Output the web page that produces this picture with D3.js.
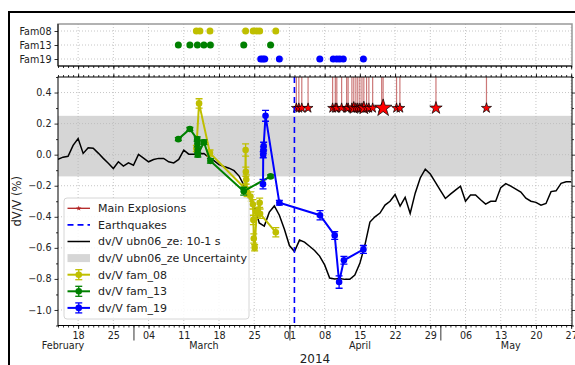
<!DOCTYPE html>
<html>
<head>
<meta charset="utf-8">
<script src="https://cdn.jsdelivr.net/npm/d3@7"></script>
<style>
    body { margin: 0; background: #fff; }
    svg { display: block; font-family: "DejaVu Sans", sans-serif; }
</style>
</head>
<body>
<div id="chart"></div>
<script>
/* ----------------------------------------------------- Data ------------------------------------------------------------------------- */

const families = ["Fam08", "Fam13", "Fam19"];

const fam08Events = ["2014-03-13 12", "2014-03-14 05", "2014-03-16 05", "2014-03-23 07", "2014-03-24 19", "2014-03-25 12", "2014-03-26 02", "2014-03-29 07"];
const fam13Events = ["2014-03-09 22", "2014-03-12 05", "2014-03-13 17", "2014-03-15 00", "2014-03-16 07", "2014-03-22 22", "2014-03-28 06"];
const fam19Events = ["2014-03-26 07", "2014-03-26 17", "2014-03-27 02", "2014-03-30 00", "2014-04-07 01", "2014-04-09 17", "2014-04-10 10", "2014-04-11 00", "2014-04-11 17", "2014-04-15 17"];

// [date, dv/V %, error]
const fam08 = [
    ["2014-03-13 12", 0.04, 0.02], ["2014-03-14 01", 0.33, 0.03], ["2014-03-16 05", 0.01, 0.02],
    ["2014-03-23 05", -0.22, 0.03], ["2014-03-23 07", 0.03, 0.04], ["2014-03-23 08", -0.11, 0.03],
    ["2014-03-23 10", -0.16, 0.03], ["2014-03-23 14", -0.24, 0.03], ["2014-03-24 06", -0.27, 0.03],
    ["2014-03-24 18", -0.32, 0.03], ["2014-03-24 20", -0.42, 0.03], ["2014-03-24 22", -0.54, 0.03],
    ["2014-03-25 02", -0.60, 0.02], ["2014-03-25 12", -0.37, 0.03], ["2014-03-26 02", -0.31, 0.03],
    ["2014-03-26 04", -0.38, 0.03], ["2014-03-29 07", -0.50, 0.03]
];
const fam13 = [
    ["2014-03-09 22", 0.10, 0.01], ["2014-03-12 05", 0.165, 0.01], ["2014-03-13 16", 0.10, 0.015],
    ["2014-03-13 17", 0.07, 0.02], ["2014-03-13 18", 0.03, 0.02], ["2014-03-13 19", 0.00, 0.015],
    ["2014-03-15 00", 0.08, 0.015], ["2014-03-16 07", -0.04, 0.015], ["2014-03-22 22", -0.235, 0.025],
    ["2014-03-28 06", -0.14, 0.01]
];
const fam19 = [
    ["2014-03-26 18", -0.19, 0.03], ["2014-03-26 19", 0.00, 0.02], ["2014-03-26 20", 0.03, 0.02],
    ["2014-03-26 21", 0.055, 0.025], ["2014-03-27 06", 0.25, 0.035], ["2014-03-30 00", -0.31, 0.015],
    ["2014-04-07 02", -0.39, 0.03], ["2014-04-10 00", -0.52, 0.025], ["2014-04-10 21", -0.82, 0.04],
    ["2014-04-11 20", -0.68, 0.025], ["2014-04-15 17", -0.61, 0.025]
];

// ubn06_ze 10-1 s daily dv/V
const ubn06 = [
    ["2014-02-14", -0.03], ["2014-02-15", -0.016], ["2014-02-16", -0.01], ["2014-02-17", 0.06], ["2014-02-18", 0.104],
    ["2014-02-19", 0.008], ["2014-02-20", 0.044], ["2014-02-21", 0.042], ["2014-02-22", 0.01], ["2014-02-23", -0.024],
    ["2014-02-24", -0.055], ["2014-02-25", -0.089], ["2014-02-26", -0.046], ["2014-02-27", -0.074], ["2014-02-28", -0.053],
    ["2014-03-01", -0.068], ["2014-03-02", 0.001], ["2014-03-03", -0.022], ["2014-03-04", -0.046], ["2014-03-05", -0.031],
    ["2014-03-06", -0.024], ["2014-03-07", -0.024], ["2014-03-08", -0.046], ["2014-03-09", -0.053], ["2014-03-10", -0.031],
    ["2014-03-11", 0.029], ["2014-03-12", 0.003], ["2014-03-13", 0.003], ["2014-03-14", 0.006], ["2014-03-15", 0.008],
    ["2014-03-16", -0.019], ["2014-03-17", -0.039], ["2014-03-18", -0.064], ["2014-03-19", -0.076], ["2014-03-20", -0.087],
    ["2014-03-21", -0.103], ["2014-03-22", -0.138], ["2014-03-23", -0.2], ["2014-03-24", -0.26], ["2014-03-25", -0.33],
    ["2014-03-26", -0.44], ["2014-03-27", -0.46], ["2014-03-28", -0.37], ["2014-03-29", -0.33], ["2014-03-30", -0.39],
    ["2014-03-31", -0.48], ["2014-04-01", -0.585], ["2014-04-02", -0.624], ["2014-04-03", -0.55], ["2014-04-04", -0.563],
    ["2014-04-05", -0.59], ["2014-04-06", -0.617], ["2014-04-07", -0.653], ["2014-04-08", -0.71], ["2014-04-09", -0.794],
    ["2014-04-10", -0.80], ["2014-04-11", -0.797], ["2014-04-12", -0.803], ["2014-04-13", -0.803], ["2014-04-14", -0.775],
    ["2014-04-15", -0.70], ["2014-04-16", -0.582], ["2014-04-17", -0.434], ["2014-04-18", -0.40], ["2014-04-19", -0.376],
    ["2014-04-20", -0.325], ["2014-04-21", -0.30], ["2014-04-22", -0.257], ["2014-04-23", -0.331], ["2014-04-24", -0.275],
    ["2014-04-25", -0.378], ["2014-04-26", -0.248], ["2014-04-27", -0.15], ["2014-04-28", -0.093], ["2014-04-29", -0.125],
    ["2014-04-30", -0.177], ["2014-05-01", -0.23], ["2014-05-02", -0.282], ["2014-05-03", -0.254], ["2014-05-04", -0.228],
    ["2014-05-05", -0.203], ["2014-05-06", -0.30], ["2014-05-07", -0.26], ["2014-05-08", -0.26], ["2014-05-09", -0.29],
    ["2014-05-10", -0.318], ["2014-05-11", -0.30], ["2014-05-12", -0.30], ["2014-05-13", -0.212], ["2014-05-14", -0.186],
    ["2014-05-15", -0.203], ["2014-05-16", -0.222], ["2014-05-17", -0.241], ["2014-05-18", -0.28], ["2014-05-19", -0.30],
    ["2014-05-20", -0.307], ["2014-05-21", -0.325], ["2014-05-22", -0.314], ["2014-05-23", -0.238], ["2014-05-24", -0.233],
    ["2014-05-25", -0.185], ["2014-05-26", -0.175], ["2014-05-27", -0.175]
];
const ubnUncertainty = [-0.14, 0.25];

// [date, relative size]
const explosions = [
    ["2014-04-02 09", 1], ["2014-04-02 21", 1], ["2014-04-03 11", 1], ["2014-04-04 17", 1],
    ["2014-04-09 14", 1], ["2014-04-10 03", 1], ["2014-04-10 10", 1], ["2014-04-11 09", 1],
    ["2014-04-12 09", 1], ["2014-04-12 16", 1], ["2014-04-13 10", 1], ["2014-04-13 19", 2],
    ["2014-04-14 05", 1], ["2014-04-14 14", 1], ["2014-04-15 00", 1], ["2014-04-15 10", 1],
    ["2014-04-15 19", 2.3], ["2014-04-16 08", 1], ["2014-04-16 19", 1], ["2014-04-17 13", 1],
    ["2014-04-19 08", 1], ["2014-04-19 15", 4], ["2014-04-22 07", 1], ["2014-04-22 23", 1],
    ["2014-04-30 03", 2], ["2014-05-10 04", 1.1]
];
const explosionLevel = 0.3;
const earthquakes = ["2014-04-01 23:46"];

const weekTicks = ["2014-02-18", "2014-02-25", "2014-03-04", "2014-03-11", "2014-03-18", "2014-03-25", "2014-04-01",
                   "2014-04-08", "2014-04-15", "2014-04-22", "2014-04-29", "2014-05-06", "2014-05-13", "2014-05-20", "2014-05-27"];
const monthStarts = ["2014-03-01", "2014-04-01", "2014-05-01"];
const monthLabels = [["2014-02-15", "February"], ["2014-03-15", "March"], ["2014-04-15", "April"], ["2014-05-15", "May"]];
const yMajorTicks = [0.4, 0.2, 0.0, -0.2, -0.4, -0.6, -0.8, -1.0];
const yMinorTicks = [0.5, 0.3, 0.1, -0.1, -0.3, -0.5, -0.7, -0.9, -1.1];
const xDomain = ["2014-02-14", "2014-05-27 04"];
const yDomain = [-1.1, 0.5];

/* ----------------------------------------------------- Helpers ---------------------------------------------------------------------- */

const parsers = ["%Y-%m-%d %H:%M", "%Y-%m-%d %H", "%Y-%m-%d"].map(f => d3.timeParse(f));
function toDate(s) {
    for (const p of parsers) {
        const d = p(s);
        if (d) return d;
    }
    return null;
}

/* ----------------------------------------------------- Layout ----------------------------------------------------------------------- */

const W = 575, H = 365;
const main = { left: 58, right: 572, top: 77, bottom: 325.5 };
const strip = { top: 24, bottom: 66 };
const fontTick = 9.6;
const colors = { fam08: "#bfbf00", fam13: "#008000", fam19: "#0000ff" };

const svg = d3.select("#chart").append("svg")
    .attr("width", W)
    .attr("height", H);

svg.append("rect").attr("width", W).attr("height", H).attr("fill", "#fff");

// figure frame
svg.append("rect")
    .attr("x", 9).attr("y", 12)
    .attr("width", 620).attr("height", 420)
    .attr("fill", "none").attr("stroke", "#000").attr("stroke-width", 2);

const x = d3.scaleTime()
    .domain(xDomain.map(toDate))
    .range([main.left, main.right]);

const y = d3.scaleLinear()
    .domain(yDomain)
    .range([main.bottom, main.top]);

const yFam = d3.scalePoint()
    .domain(families)
    .range([31, 59]);

const allDays = d3.timeDay.range(x.domain()[0], d3.timeDay.offset(x.domain()[1], 1));

function styleAxis(g) {
    g.select(".domain").remove();
    g.selectAll("line").attr("stroke", "#000").attr("stroke-width", 0.8);
    g.selectAll("text").attr("fill", "#222").style("font-size", fontTick + "px").style("font-family", "DejaVu Sans");
}

/* ----------------------------------------------------- Top strip -------------------------------------------------------------------- */

const gridStyle = sel => sel.attr("stroke", "#b8b8b8").attr("stroke-width", 0.8).attr("stroke-dasharray", "1,2");

svg.append("g").selectAll("line")
    .data(weekTicks.map(toDate))
    .enter().append("line")
    .attr("x1", d => x(d)).attr("x2", d => x(d))
    .attr("y1", strip.top).attr("y2", strip.bottom)
    .call(gridStyle);

svg.append("g").selectAll("line")
    .data(families)
    .enter().append("line")
    .attr("x1", main.left).attr("x2", main.right)
    .attr("y1", d => yFam(d)).attr("y2", d => yFam(d))
    .call(gridStyle);

const stripSeries = [["Fam08", fam08Events, colors.fam08], ["Fam13", fam13Events, colors.fam13], ["Fam19", fam19Events, colors.fam19]];
stripSeries.forEach(function ([fam, events, color]) {
    svg.append("g").selectAll("circle")
        .data(events)
        .enter().append("circle")
        .attr("cx", d => x(toDate(d)))
        .attr("cy", yFam(fam))
        .attr("r", 3.5)
        .attr("fill", color);
});

svg.append("rect")
    .attr("x", main.left).attr("y", strip.top)
    .attr("width", main.right - main.left).attr("height", strip.bottom - strip.top)
    .attr("fill", "none").attr("stroke", "#999").attr("stroke-width", 1.5);
svg.append("line")
    .attr("x1", main.left).attr("x2", main.left).attr("y1", strip.top).attr("y2", strip.bottom)
    .attr("stroke", "#000").attr("stroke-width", 1);
svg.append("line")
    .attr("x1", main.left).attr("x2", main.right).attr("y1", strip.bottom).attr("y2", strip.bottom)
    .attr("stroke", "#000").attr("stroke-width", 1);

svg.append("g")
    .attr("transform", `translate(${main.left},0)`)
    .call(d3.axisLeft(yFam).tickSize(3.5).tickPadding(3))
    .call(styleAxis);

svg.append("g")
    .attr("transform", `translate(0,${strip.bottom})`)
    .call(d3.axisBottom(x).tickValues(allDays).tickSize(2).tickFormat(""))
    .call(styleAxis);
svg.append("g")
    .attr("transform", `translate(0,${strip.bottom})`)
    .call(d3.axisBottom(x).tickValues(weekTicks.map(toDate)).tickSize(3.5).tickFormat(""))
    .call(styleAxis);

/* ----------------------------------------------------- Main panel ------------------------------------------------------------------- */

svg.append("defs").append("clipPath").attr("id", "clip")
    .append("rect")
    .attr("x", main.left).attr("y", main.top)
    .attr("width", main.right - main.left).attr("height", main.bottom - main.top);

const plot = svg.append("g").attr("clip-path", "url(#clip)");

// uncertainty band
plot.append("rect")
    .attr("x", main.left)
    .attr("width", main.right - main.left)
    .attr("y", y(ubnUncertainty[1]))
    .attr("height", y(ubnUncertainty[0]) - y(ubnUncertainty[1]))
    .attr("fill", "#d6d6d6");

// grid
plot.append("g").selectAll("line")
    .data(weekTicks.map(toDate))
    .enter().append("line")
    .attr("x1", d => x(d)).attr("x2", d => x(d))
    .attr("y1", main.top).attr("y2", main.bottom)
    .call(gridStyle);
plot.append("g").selectAll("line")
    .data(yMajorTicks)
    .enter().append("line")
    .attr("x1", main.left).attr("x2", main.right)
    .attr("y1", d => y(d)).attr("y2", d => y(d))
    .call(gridStyle);

// ubn06 curve
const line = d3.line()
    .x(d => x(toDate(d[0])))
    .y(d => y(d[1]));

plot.append("path")
    .datum(ubn06)
    .attr("d", line)
    .attr("fill", "none")
    .attr("stroke", "#000")
    .attr("stroke-width", 1.5);

// explosions
const starRadius = d3.scaleLinear().domain([1, 4]).range([5.2, 9.2]);
const starSize = m => Math.pow(starRadius(m), 2) / 0.8908130915292852;

plot.append("g").selectAll("line")
    .data(explosions)
    .enter().append("line")
    .attr("x1", d => x(toDate(d[0]))).attr("x2", d => x(toDate(d[0])))
    .attr("y1", y(explosionLevel)).attr("y2", main.top)
    .attr("stroke", "rgba(170,30,30,0.6)")
    .attr("stroke-width", 1.2);

plot.append("g").selectAll("path")
    .data(explosions)
    .enter().append("path")
    .attr("transform", d => `translate(${x(toDate(d[0]))},${y(explosionLevel)})`)
    .attr("d", d => d3.symbol(d3.symbolStar, starSize(d[1]))())
    .attr("fill", "#ff0000")
    .attr("stroke", "#000")
    .attr("stroke-width", 0.7);

// earthquakes
plot.append("g").selectAll("line")
    .data(earthquakes)
    .enter().append("line")
    .attr("x1", d => x(toDate(d))).attr("x2", d => x(toDate(d)))
    .attr("y1", main.top).attr("y2", main.bottom)
    .attr("stroke", "#0000ff")
    .attr("stroke-width", 1.6)
    .attr("stroke-dasharray", "6,4");

// family dv/V with error bars
function drawFamily(data, color) {
    const g = plot.append("g");
    g.append("path")
        .datum(data)
        .attr("d", line)
        .attr("fill", "none")
        .attr("stroke", color)
        .attr("stroke-width", 2);

    const bars = g.selectAll(".err")
        .data(data)
        .enter().append("g")
        .attr("stroke", color)
        .attr("stroke-width", 1.3);
    bars.append("line")
        .attr("x1", d => x(toDate(d[0]))).attr("x2", d => x(toDate(d[0])))
        .attr("y1", d => y(d[1] - d[2])).attr("y2", d => y(d[1] + d[2]));
    [-1, 1].forEach(function (s) {
        bars.append("line")
            .attr("x1", d => x(toDate(d[0])) - 3.5).attr("x2", d => x(toDate(d[0])) + 3.5)
            .attr("y1", d => y(d[1] + s * d[2])).attr("y2", d => y(d[1] + s * d[2]));
    });

    g.selectAll("circle")
        .data(data)
        .enter().append("circle")
        .attr("cx", d => x(toDate(d[0])))
        .attr("cy", d => y(d[1]))
        .attr("r", 3.3)
        .attr("fill", color);
}

drawFamily(fam08, colors.fam08);
drawFamily(fam13, colors.fam13);
drawFamily(fam19, colors.fam19);

// frame
svg.append("rect")
    .attr("x", main.left).attr("y", main.top)
    .attr("width", main.right - main.left).attr("height", main.bottom - main.top)
    .attr("fill", "none").attr("stroke", "#000").attr("stroke-width", 1);

/* ----------------------------------------------------- Axes ------------------------------------------------------------------------- */

// y left / right
svg.append("g")
    .attr("transform", `translate(${main.left},0)`)
    .call(d3.axisLeft(y).tickValues(yMajorTicks).tickSize(3.5).tickPadding(3).tickFormat(d3.format(".1f")))
    .call(styleAxis);
svg.append("g")
    .attr("transform", `translate(${main.left},0)`)
    .call(d3.axisLeft(y).tickValues(yMinorTicks).tickSize(2).tickFormat(""))
    .call(styleAxis);
svg.append("g")
    .attr("transform", `translate(${main.right},0)`)
    .call(d3.axisRight(y).tickValues(yMajorTicks).tickSize(3.5).tickFormat(""))
    .call(styleAxis);
svg.append("g")
    .attr("transform", `translate(${main.right},0)`)
    .call(d3.axisRight(y).tickValues(yMinorTicks).tickSize(2).tickFormat(""))
    .call(styleAxis);

// x top
svg.append("g")
    .attr("transform", `translate(0,${main.top})`)
    .call(d3.axisTop(x).tickValues(allDays).tickSize(2).tickFormat(""))
    .call(styleAxis);
svg.append("g")
    .attr("transform", `translate(0,${main.top})`)
    .call(d3.axisTop(x).tickValues(weekTicks.map(toDate)).tickSize(3.5).tickFormat(""))
    .call(styleAxis);

// x bottom
svg.append("g")
    .attr("transform", `translate(0,${main.bottom})`)
    .call(d3.axisBottom(x).tickValues(allDays).tickSize(2).tickFormat(""))
    .call(styleAxis);
svg.append("g")
    .attr("transform", `translate(0,${main.bottom})`)
    .call(d3.axisBottom(x).tickValues(weekTicks.map(toDate)).tickSize(3.5).tickPadding(3).tickFormat(d3.timeFormat("%d")))
    .call(styleAxis);
svg.append("g")
    .attr("transform", `translate(0,${main.bottom})`)
    .call(d3.axisBottom(x).tickValues(monthStarts.map(toDate)).tickSize(15).tickFormat(""))
    .call(styleAxis);

svg.append("g").selectAll("text")
    .data(monthLabels)
    .enter().append("text")
    .attr("x", d => x(toDate(d[0])))
    .attr("y", 349)
    .attr("text-anchor", "middle")
    .attr("fill", "#222")
    .style("font-size", fontTick + "px")
    .text(d => d[1]);

svg.append("text")
    .attr("x", (main.left + main.right) / 2)
    .attr("y", 363)
    .attr("text-anchor", "middle")
    .attr("fill", "#222")
    .style("font-size", "12px")
    .text("2014");

svg.append("text")
    .attr("transform", `translate(21, ${(main.top + main.bottom) / 2}) rotate(-90)`)
    .attr("text-anchor", "middle")
    .attr("fill", "#222")
    .style("font-size", "11.5px")
    .text("dV/V (%)");

/* ----------------------------------------------------- Legend ----------------------------------------------------------------------- */

const legendItems = [
    ["Main Explosions", "star"],
    ["Earthquakes", "dash"],
    ["dv/V ubn06_ze: 10-1 s", "line"],
    ["dv/V ubn06_ze Uncertainty", "patch"],
    ["dv/V fam_08", colors.fam08],
    ["dv/V fam_13", colors.fam13],
    ["dv/V fam_19", colors.fam19]
];

const legend = svg.append("g");
legend.append("rect")
    .attr("x", 64).attr("y", 198)
    .attr("width", 185).attr("height", 121)
    .attr("rx", 3)
    .attr("fill", "rgba(255,255,255,0.85)")
    .attr("stroke", "#ccc")
    .attr("stroke-width", 0.8);

legendItems.forEach(function ([label, kind], i) {
    const cy = 208.3 + i * 16.6;
    const g = legend.append("g");
    const x0 = 67.5, x1 = 90, xm = (x0 + x1) / 2;
    if (kind === "star") {
        g.append("line").attr("x1", x0).attr("x2", x1).attr("y1", cy).attr("y2", cy)
            .attr("stroke", "#b22222").attr("stroke-width", 1.3);
        g.append("path").attr("transform", `translate(${xm},${cy})`)
            .attr("d", d3.symbol(d3.symbolStar, 9)())
            .attr("fill", "#b22222");
    } else if (kind === "dash") {
        g.append("line").attr("x1", x0).attr("x2", x1).attr("y1", cy).attr("y2", cy)
            .attr("stroke", "#0000ff").attr("stroke-width", 1.6).attr("stroke-dasharray", "6,4");
    } else if (kind === "line") {
        g.append("line").attr("x1", x0).attr("x2", x1).attr("y1", cy).attr("y2", cy)
            .attr("stroke", "#000").attr("stroke-width", 1.5);
    } else if (kind === "patch") {
        g.append("rect").attr("x", x0).attr("y", cy - 4).attr("width", x1 - x0).attr("height", 8)
            .attr("fill", "#d6d6d6");
    } else {
        g.append("line").attr("x1", x0).attr("x2", x1).attr("y1", cy).attr("y2", cy)
            .attr("stroke", kind).attr("stroke-width", 2);
        g.append("line").attr("x1", xm).attr("x2", xm).attr("y1", cy - 5).attr("y2", cy + 5)
            .attr("stroke", kind).attr("stroke-width", 1.3);
        [-5, 5].forEach(function (o) {
            g.append("line").attr("x1", xm - 3.5).attr("x2", xm + 3.5).attr("y1", cy + o).attr("y2", cy + o)
                .attr("stroke", kind).attr("stroke-width", 1.3);
        });
        g.append("circle").attr("cx", xm).attr("cy", cy).attr("r", 3.3).attr("fill", kind);
    }
    g.append("text")
        .attr("x", 98)
        .attr("y", cy)
        .attr("dy", "0.35em")
        .attr("fill", "#222")
        .style("font-size", "11px")
        .text(label);
});
</script>
</body>
</html>
